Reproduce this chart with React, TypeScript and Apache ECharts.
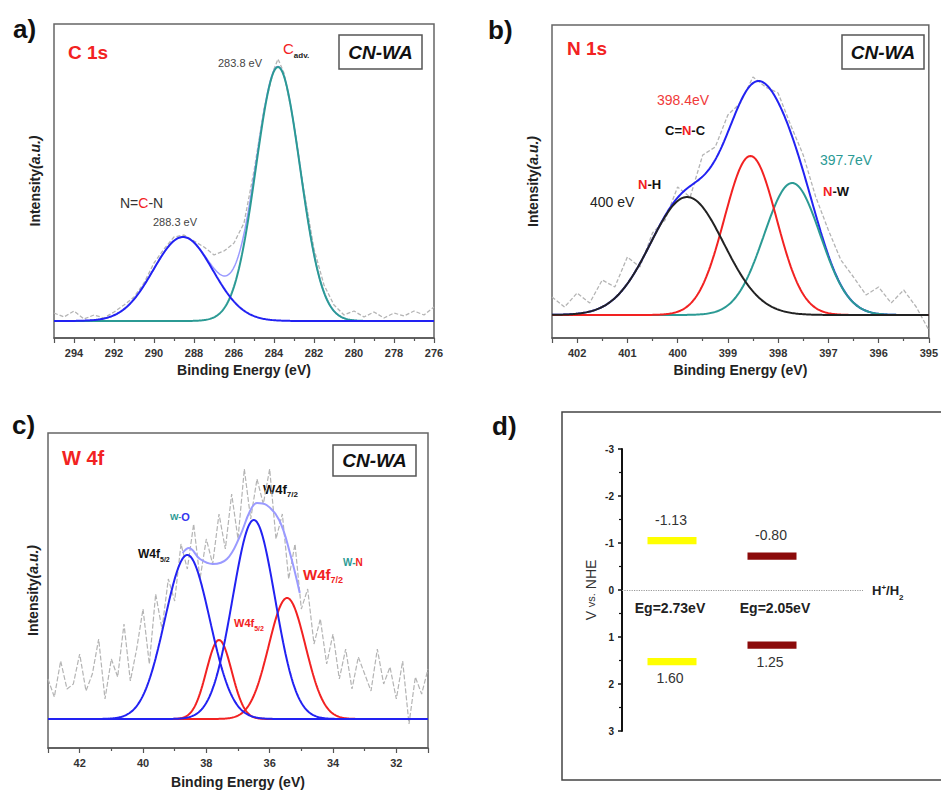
import React, { useEffect, useRef } from "react";
import * as echarts from "echarts";

const FONT = "'Liberation Sans', Arial, sans-serif";

// ---------- Panel a: C 1s (intensity in arbitrary units) ----------
const c1sPeakCenters = [288.55, 283.8];
const c1sPeakHeights = [84, 254];
const c1sPeakSigmas = [1.49, 1.1];
const c1sRaw: [number, number][] = [
  [295, 8], [294.5, 4], [294, 10], [293.5, 2], [293, 6], [292.5, 3], [292, 9], [291.5, 16],
  [291, 24], [290.5, 38], [290, 58], [289.5, 72], [289, 84], [288.5, 86], [288, 80],
  [287.5, 74], [287, 66], [286.5, 70], [286, 78], [285.5, 98], [285, 150], [284.5, 212],
  [284, 252], [283.8, 262], [283.5, 248], [283, 196], [282.5, 130], [282, 72], [281.5, 36],
  [281, 16], [280.5, 6], [280, 10], [279.5, 4], [279, 9], [278.5, 3], [278, 8], [277.5, 5],
  [277, 10], [276.5, 6], [276, 14],
];

// ---------- Panel b: N 1s ----------
const n1sPeakCenters = [399.81, 398.55, 397.72]; // N-H, C=N-C, N-W
const n1sPeakHeights = [118, 159, 132];
const n1sPeakSigmas = [0.73, 0.52, 0.56];
const n1sRaw: [number, number][] = [
  [402.5, 18], [402.25, 8], [402, 22], [401.75, 12], [401.5, 35], [401.25, 28], [401, 58],
  [400.75, 48], [400.5, 82], [400.25, 95], [400, 128], [399.75, 118], [399.5, 160],
  [399.25, 168], [399, 200], [398.75, 212], [398.5, 238], [398.25, 228], [398, 222],
  [397.75, 190], [397.5, 160], [397.25, 118], [397, 85], [396.75, 55], [396.5, 38],
  [396.25, 20], [396, 28], [395.75, 12], [395.5, 25], [395.25, 8], [395, -15],
];

// ---------- Panel c: W 4f ----------
const w4fPeakCenters = [38.6, 36.5, 37.6, 35.45]; // W-O 5/2, W-O 7/2, W-N 5/2, W-N 7/2
const w4fPeakHeights = [164, 199, 79, 121];
const w4fPeakSigmas = [0.71, 0.67, 0.4, 0.58];
const w4fEnvelope: [number, number][] = [
  [38.75, 166], [38.55, 171], [38.2, 160], [37.8, 155], [37.35, 160], [36.95, 182],
  [36.62, 208], [36.4, 216], [36.1, 214], [35.7, 199], [35.36, 166], [35.05, 126],
];
const w4fRaw: [number, number][] = [
  [43.0, 40], [42.8, 22], [42.6, 58], [42.4, 30], [42.2, 35], [42.0, 65], [41.8, 28],
  [41.6, 45], [41.4, 80], [41.2, 20], [41.0, 60], [40.8, 42], [40.6, 95], [40.4, 38],
  [40.2, 70], [40.0, 110], [39.8, 55], [39.6, 125], [39.4, 90], [39.2, 140], [39.0, 118],
  [38.8, 175], [38.6, 150], [38.4, 195], [38.2, 140], [38.0, 180], [37.8, 155], [37.6, 205],
  [37.4, 170], [37.2, 225], [37.0, 180], [36.8, 250], [36.6, 200], [36.4, 240], [36.2, 215],
  [36.0, 250], [35.8, 180], [35.6, 205], [35.4, 140], [35.2, 175], [35.0, 110], [34.8, 130],
  [34.6, 75], [34.4, 100], [34.2, 55], [34.0, 85], [33.8, 40], [33.6, 70], [33.4, 30],
  [33.2, 62], [33.0, 45], [32.8, 28], [32.6, 70], [32.4, 35], [32.2, 52], [32.0, 20],
  [31.8, 58], [31.6, -5], [31.4, 42], [31.2, 25], [31.0, 50],
];

// ---------- Panel d: band positions ----------
const cbPotentials = [-1.13, -0.8];
const vbPotentials = [1.6, 1.25];
const bandGaps = [2.73, 2.05];

const gaussian = (x: number, c: number, h: number, s: number) =>
  h * Math.exp(-((x - c) * (x - c)) / (2 * s * s));

function grid(min: number, max: number, step = 0.05) {
  const xs: number[] = [];
  for (let x = min; x <= max + 1e-9; x += step) xs.push(+x.toFixed(3));
  return xs;
}

function peakCurve(xs: number[], c: number, h: number, s: number) {
  return xs.map((x) => [x, gaussian(x, c, h, s)]);
}

function envelopeCurve(xs: number[], cs: number[], hs: number[], ss: number[]) {
  return xs.map((x) => [x, cs.reduce((acc, c, i) => acc + gaussian(x, c, hs[i], ss[i]), 0)]);
}

const lineSeries = (xi: number, data: any, color: string, width = 2, type: any = "solid", z = 2, smooth: any = false) => ({
  type: "line",
  xAxisIndex: xi,
  yAxisIndex: xi,
  data,
  showSymbol: false,
  symbol: "none",
  silent: true,
  smooth,
  z,
  lineStyle: { color, width, type },
});

const xAxisFor = (gi: number, min: number, max: number, extra: any, fmt: (v: number) => string, nameGap = 25) => ({
  type: "value",
  gridIndex: gi,
  min,
  max,
  inverse: true,
  ...extra,
  name: "Binding Energy (eV)",
  nameLocation: "middle",
  nameGap,
  nameTextStyle: { fontFamily: FONT, fontWeight: "bold", fontSize: 14, color: "#222" },
  axisLine: { show: true, onZero: false, lineStyle: { color: "#555", width: 1.5 } },
  axisTick: { show: true, inside: false, length: 5, lineStyle: { color: "#555", width: 1.2 } },
  minorTick: { show: true, splitNumber: 2, length: 3, lineStyle: { color: "#555", width: 1.2 } },
  axisLabel: { fontFamily: FONT, fontWeight: "bold", fontSize: 11, color: "#333", margin: 9, formatter: fmt },
  splitLine: { show: false },
  minorSplitLine: { show: false },
});

const yAxisFor = (gi: number, min: number, max: number, nameGap: number) => ({
  type: "value",
  gridIndex: gi,
  min,
  max,
  name: "{a|Intensity}{b|(a.u.)}",
  nameLocation: "middle",
  nameGap,
  nameRotate: 90,
  nameTextStyle: {
    rich: {
      a: { fontFamily: FONT, fontWeight: "bold", fontSize: 14, color: "#222" },
      b: { fontFamily: FONT, fontWeight: "bold", fontStyle: "italic", fontSize: 14, color: "#222" },
    },
  },
  axisLine: { show: false },
  axisTick: { show: false },
  axisLabel: { show: false },
  splitLine: { show: false },
});

const txt = (x: number, y: number, text: string, style: any = {}, rich?: any) => ({
  type: "text",
  x,
  y,
  silent: true,
  style: {
    text,
    fontFamily: FONT,
    fontSize: 12,
    fill: "#222",
    verticalAlign: "middle",
    align: "left",
    ...style,
    ...(rich ? { rich } : {}),
  },
});

const boxLabel = (x: number, y: number, w: number, h: number, fs: number) => ({
  type: "group",
  silent: true,
  children: [
    { type: "rect", shape: { x, y, width: w, height: h }, style: { fill: "#fff", stroke: "#555", lineWidth: 1.5 } },
    {
      type: "text",
      x: x + w / 2,
      y: y + h / 2,
      style: {
        text: "CN-WA",
        fontFamily: FONT,
        fontWeight: "bold",
        fontStyle: "italic",
        fontSize: fs,
        fill: "#111",
        align: "center",
        verticalAlign: "middle",
      },
    },
  ],
});

const BLUE = "#2222f2";
const TEAL = "#2b9a94";
const RED = "#f22222";
const LIGHTBLUE = "#9a9aff";
const GRAY = "#b4b4b4";

export default function App() {
  const ref = useRef<HTMLDivElement>(null);
  useEffect(() => {
    if (!ref.current) return;
    const chart = echarts.init(ref.current, undefined, { renderer: "svg" });

    const xsA = grid(276, 295);
    const xsB = grid(395, 402.5, 0.025);
    const xsC = grid(31, 43, 0.025);

    const evenFmt = (v: number) => (Math.abs(v % 2) < 1e-6 ? String(v) : "");
    const intFmt = (v: number) => (Math.abs(v - Math.round(v)) < 1e-6 ? String(v) : "");

    const subRich = (mainSize: number, subSize: number, color: string) => ({
      m: { fontFamily: FONT, fontWeight: "bold", fontSize: mainSize, fill: color, color },
      s: { fontFamily: FONT, fontWeight: "bold", fontSize: subSize, fill: color, color, verticalAlign: "bottom", padding: [0, 0, -3, 0] },
    });

    const option: any = {
      animation: false,
      grid: [
        { left: 54, top: 24, width: 380, height: 314, show: true, borderColor: "#666", borderWidth: 1.5 },
        { left: 552, top: 25, width: 380, height: 313, show: true, borderColor: "#666", borderWidth: 1.5 },
        { left: 48, top: 433, width: 380, height: 315, show: true, borderColor: "#666", borderWidth: 1.5 },
        { left: 622, top: 449, width: 241, height: 282, show: false },
      ],
      xAxis: [
        xAxisFor(0, 276, 295, { interval: 2 }, evenFmt, 25),
        xAxisFor(1, 395, 402.5, { interval: 1 }, intFmt, 25),
        xAxisFor(2, 31, 43, { splitNumber: 6 }, evenFmt, 27),
        { type: "value", gridIndex: 3, min: 0, max: 4.82, show: false },
      ],
      yAxis: [
        yAxisFor(0, -17, 297, 12),
        yAxisFor(1, -23, 290, 12),
        yAxisFor(2, -29, 286, 8),
        {
          type: "value",
          gridIndex: 3,
          min: -3,
          max: 3,
          interval: 1,
          inverse: true,
          name: "{a|V }{b|vs.}{a| NHE}",
          nameLocation: "middle",
          nameGap: 24,
          nameRotate: 90,
          nameTextStyle: {
            rich: {
              a: { fontFamily: FONT, fontSize: 14, color: "#333" },
              b: { fontFamily: FONT, fontSize: 11, color: "#333" },
            },
          },
          axisLine: { show: true, lineStyle: { color: "#111", width: 2 } },
          axisTick: { show: true, length: 4, lineStyle: { color: "#111", width: 1.5 } },
          minorTick: { show: true, splitNumber: 2, length: 3, lineStyle: { color: "#111", width: 1.2 } },
          axisLabel: { fontFamily: FONT, fontWeight: "bold", fontSize: 10, color: "#222", margin: 8 },
          splitLine: { show: false },
        },
      ],
      series: [
        // a
        lineSeries(0, c1sRaw, GRAY, 1.3, [4, 2], 1),
        lineSeries(0, envelopeCurve(xsA, c1sPeakCenters, c1sPeakHeights, c1sPeakSigmas), LIGHTBLUE, 1.5, "solid", 2),
        lineSeries(0, peakCurve(xsA, c1sPeakCenters[1], c1sPeakHeights[1], c1sPeakSigmas[1]), TEAL, 2, "solid", 3),
        lineSeries(0, peakCurve(xsA, c1sPeakCenters[0], c1sPeakHeights[0], c1sPeakSigmas[0]), BLUE, 2, "solid", 4),
        // b
        lineSeries(1, n1sRaw, GRAY, 1.3, [4, 2], 1),
        lineSeries(1, envelopeCurve(xsB, n1sPeakCenters, n1sPeakHeights, n1sPeakSigmas), BLUE, 2, "solid", 2),
        lineSeries(1, peakCurve(xsB, n1sPeakCenters[2], n1sPeakHeights[2], n1sPeakSigmas[2]), TEAL, 2, "solid", 3),
        lineSeries(1, peakCurve(xsB, n1sPeakCenters[1], n1sPeakHeights[1], n1sPeakSigmas[1]), RED, 2, "solid", 4),
        lineSeries(1, peakCurve(xsB, n1sPeakCenters[0], n1sPeakHeights[0], n1sPeakSigmas[0]), "#222", 2, "solid", 5),
        // c
        lineSeries(2, w4fRaw, GRAY, 1.2, [5, 2], 1),
        lineSeries(2, w4fEnvelope, LIGHTBLUE, 2, "solid", 2, 0.4),
        lineSeries(2, peakCurve(xsC, w4fPeakCenters[2], w4fPeakHeights[2], w4fPeakSigmas[2]), RED, 2, "solid", 3),
        lineSeries(2, peakCurve(xsC, w4fPeakCenters[3], w4fPeakHeights[3], w4fPeakSigmas[3]), RED, 2, "solid", 3),
        lineSeries(2, peakCurve(xsC, w4fPeakCenters[0], w4fPeakHeights[0], w4fPeakSigmas[0]), BLUE, 2, "solid", 4),
        lineSeries(2, peakCurve(xsC, w4fPeakCenters[1], w4fPeakHeights[1], w4fPeakSigmas[1]), BLUE, 2, "solid", 4),
        // d
        {
          type: "custom",
          xAxisIndex: 3,
          yAxisIndex: 3,
          silent: true,
          data: cbPotentials.map((cb, i) => ({
            value: [1 + 2 * i, cb, vbPotentials[i], bandGaps[i]],
            itemStyle: { color: i === 0 ? "#ffff00" : "#8b0a0a" },
          })),
          renderItem: (params: any, api: any) => {
            const xc = api.value(0);
            const cb = api.value(1);
            const vb = api.value(2);
            const eg = api.value(3);
            const color = api.visual("color");
            const pCB = api.coord([xc, cb]);
            const pVB = api.coord([xc, vb]);
            const p0 = api.coord([xc, 0]);
            const w = Math.abs(api.size([0.98, 0])[0]);
            const t = Math.abs(api.size([0, 0.155])[1]);
            const numStyle = { fontFamily: FONT, fontSize: 14, fill: "#333", align: "center", verticalAlign: "middle" };
            return {
              type: "group",
              children: [
                { type: "rect", shape: { x: pCB[0] - w / 2, y: pCB[1], width: w, height: t }, style: { fill: color } },
                { type: "rect", shape: { x: pVB[0] - w / 2, y: pVB[1] - t, width: w, height: t }, style: { fill: color } },
                { type: "text", style: { ...numStyle, text: cb.toFixed(2), x: pCB[0] - 1, y: pCB[1] - 17 } },
                { type: "text", style: { ...numStyle, text: vb.toFixed(2), x: pVB[0] - 2, y: pVB[1] + 13 } },
                {
                  type: "text",
                  style: {
                    ...numStyle,
                    fontWeight: "bold",
                    fill: "#222",
                    text: "Eg=" + eg.toFixed(2) + "eV",
                    x: p0[0] + (xc < 2 ? -2 : 3),
                    y: p0[1] + 18,
                  },
                },
              ],
            };
          },
          markLine: {
            silent: true,
            symbol: "none",
            lineStyle: { color: "#999", type: "dotted", width: 1.2 },
            label: {
              show: true,
              position: "end",
              distance: 9,
              formatter: "{a|H}{p|+}{a|/H}{q|2}",
              rich: {
                a: { fontFamily: FONT, fontWeight: "bold", fontSize: 13, color: "#222" },
                p: { fontFamily: FONT, fontWeight: "bold", fontSize: 8, color: "#222", verticalAlign: "top", padding: [0, 0, 6, 0] },
                q: { fontFamily: FONT, fontWeight: "bold", fontSize: 8, color: "#222", verticalAlign: "bottom", padding: [0, 0, -4, 0] },
              },
            },
            data: [[{ coord: [0, 0] }, { coord: [4.82, 0] }]],
          },
        },
      ],
      graphic: [
        // panel letters
        txt(13, 29, "a)", { fontWeight: "bold", fontSize: 26, fill: "#111" }),
        txt(488, 30, "b)", { fontWeight: "bold", fontSize: 26, fill: "#111" }),
        txt(12, 425, "c)", { fontWeight: "bold", fontSize: 26, fill: "#111" }),
        txt(492, 426, "d)", { fontWeight: "bold", fontSize: 26, fill: "#111" }),
        // panel d frame
        { type: "rect", silent: true, shape: { x: 562, y: 412, width: 382, height: 368 }, style: { fill: "none", stroke: "#444", lineWidth: 1.5 } },
        // panel a annotations
        txt(68, 52, "C 1s", { fontWeight: "bold", fontSize: 19, fill: RED }),
        boxLabel(339, 35, 83, 34, 19),
        txt(283, 48, "{r|C}{s|adv.}", {}, {
          r: { fontFamily: FONT, fontSize: 15, fill: RED },
          s: { fontFamily: FONT, fontWeight: "bold", fontSize: 8, fill: "#222", verticalAlign: "bottom", padding: [0, 0, -4, 0] },
        }),
        txt(218, 63, "283.8 eV", { fontSize: 11, fill: "#444" }),
        txt(120, 203, "{k|N=}{r|C}{k|-N}", {}, {
          k: { fontFamily: FONT, fontSize: 14, fill: "#333" },
          r: { fontFamily: FONT, fontSize: 14, fill: RED },
        }),
        txt(153, 222, "288.3 eV", { fontSize: 11, fill: "#444" }),
        // panel b annotations
        txt(567, 48, "N 1s", { fontWeight: "bold", fontSize: 19, fill: RED }),
        boxLabel(842, 35, 82, 34, 19),
        txt(657, 100, "398.4eV", { fontSize: 14, fill: "#f03a3a" }),
        txt(665, 130, "{k|C=}{r|N}{k|-C}", {}, {
          k: { fontFamily: FONT, fontWeight: "bold", fontSize: 13, fill: "#111" },
          r: { fontFamily: FONT, fontWeight: "bold", fontSize: 13, fill: RED },
        }),
        txt(820, 160, "397.7eV", { fontSize: 14, fill: TEAL }),
        txt(823, 191, "{r|N}{k|-W}", {}, {
          k: { fontFamily: FONT, fontWeight: "bold", fontSize: 13, fill: "#111" },
          r: { fontFamily: FONT, fontWeight: "bold", fontSize: 13, fill: RED },
        }),
        txt(638, 184, "{r|N}{k|-H}", {}, {
          k: { fontFamily: FONT, fontWeight: "bold", fontSize: 13, fill: "#111" },
          r: { fontFamily: FONT, fontWeight: "bold", fontSize: 13, fill: RED },
        }),
        txt(590, 202, "400 eV", { fontSize: 14, fill: "#222" }),
        // panel c annotations
        txt(62, 458, "W 4f", { fontWeight: "bold", fontSize: 20, fill: RED }),
        boxLabel(333, 445, 83, 31, 19),
        txt(263, 489, "{m|W4f}{s|7/2}", {}, subRich(13, 8, "#111")),
        txt(170, 517, "{t|W-}{b|O}", {}, {
          t: { fontFamily: FONT, fontWeight: "bold", fontSize: 9, fill: TEAL },
          b: { fontFamily: FONT, fontWeight: "bold", fontSize: 11, fill: "#3535ee" },
        }),
        txt(138, 554, "{m|W4f}{s|5/2}", {}, subRich(12, 7, "#111")),
        txt(343, 562, "{t|W-}{r|N}", {}, {
          t: { fontFamily: FONT, fontWeight: "bold", fontSize: 10, fill: TEAL },
          r: { fontFamily: FONT, fontWeight: "bold", fontSize: 10, fill: RED },
        }),
        txt(303, 574, "{m|W4f}{s|7/2}", {}, subRich(15, 9, RED)),
        txt(234, 623, "{m|W4f}{s|5/2}", {}, subRich(11, 7, RED)),
      ],
    };

    chart.setOption(option);
    return () => chart.dispose();
  }, []);

  return (
    <div
      ref={ref}
      style={{ position: "absolute", left: 0, top: 0, width: 941, height: 791, background: "#fff" }}
    />
  );
}
